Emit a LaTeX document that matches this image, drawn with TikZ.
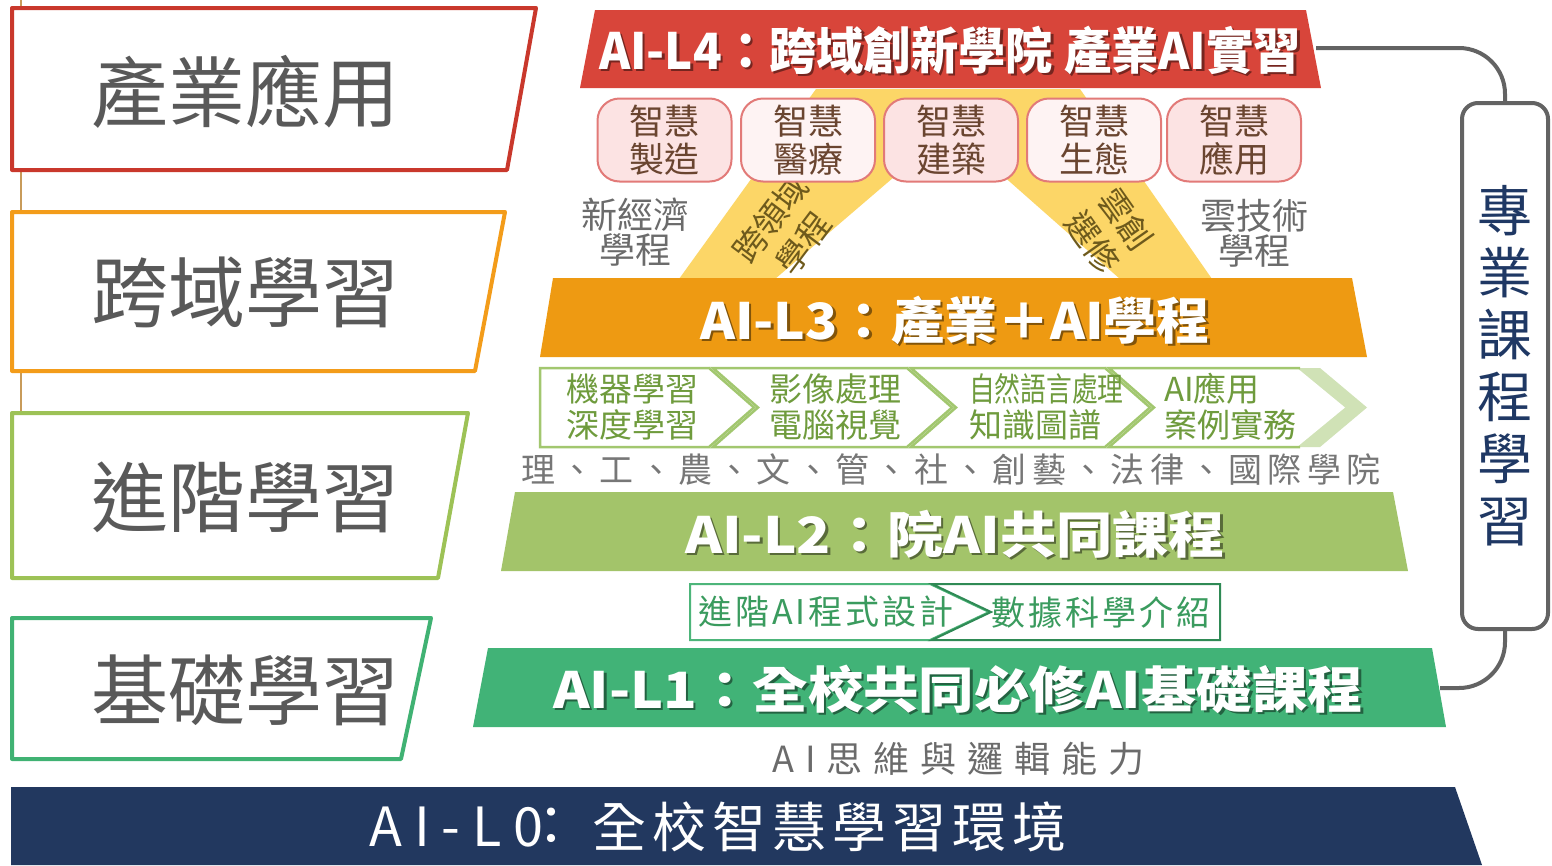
\documentclass[tikz,border=0pt]{standalone}
\usepackage{fontspec}
\usepackage{graphicx}
\setmainfont{Noto Sans CJK TC}
\newcommand\fs[2]{\fontsize{#1}{#2}\selectfont}
\makeatletter
\def\trk#1#2{\def\trk@k{\kern#1}\trk@first#2\trk@end}
\def\trk@first#1{#1\trk@a}
\def\trk@a#1{\ifx#1\trk@end\else\trk@k#1\expandafter\trk@a\fi}
\def\trk@end{\trk@end@x}
\makeatother
\definecolor{cLfour}{HTML}{D8453A}
\definecolor{cLthree}{HTML}{EE9A12}
\definecolor{cLtwo}{HTML}{A3C46A}
\definecolor{cLone}{HTML}{41B377}
\definecolor{cLzero}{HTML}{22385F}
\definecolor{bandc}{HTML}{FCD667}
\definecolor{bandtxt}{HTML}{6E5A1C}
\definecolor{lbl}{HTML}{595959}
\definecolor{bred}{HTML}{C9382C}
\definecolor{bora}{HTML}{F39C1A}
\definecolor{blgr}{HTML}{9DC256}
\definecolor{bgrn}{HTML}{40B273}
\definecolor{tanc}{HTML}{C89B5A}
\definecolor{pinkA}{HTML}{FCE3E3}
\definecolor{pinkB}{HTML}{FEF3F3}
\definecolor{pinkline}{HTML}{E27A78}
\definecolor{brownish}{HTML}{6A4530}
\definecolor{chevline}{HTML}{A2C76F}
\definecolor{chevtxt}{HTML}{6F9B3D}
\definecolor{chevfill}{HTML}{D0E2B6}
\definecolor{grtxt}{HTML}{3A9B5E}
\definecolor{grlineA}{HTML}{4DB57A}
\definecolor{grlineB}{HTML}{2F8A55}
\definecolor{navyc}{HTML}{1F3864}
\definecolor{brk}{HTML}{636363}
\definecolor{gtxt}{HTML}{6B6B6B}
\definecolor{gtxtb}{HTML}{777777}
\newcommand\ttl[5]{%
  \node[ttlshadow] (#1s) at (#2+2.5,#3+2.5) {\resizebox{#4pt}{\height}{#5}};
  \node[ttltext] (#1) at (#2,#3) {\resizebox{#4pt}{\height}{#5}};}
\begin{document}
\begin{tikzpicture}[x=1pt,y=-1pt,
  lblbox/.style={line width=4pt, fill=white, line join=round},
  lbltxt/.style={anchor=west, inner sep=0pt, text=lbl, font=\fs{77}{80}},
  ttltext/.style={inner sep=0pt, text=white, font=\bfseries\fs{50}{54}},
  ttlshadow/.style={inner sep=0pt, text=black, opacity=0.45, font=\bfseries\fs{50}{54}},
  smart/.style={rounded corners=22pt, draw=pinkline, line width=2pt, minimum width=134pt, minimum height=83pt, inner sep=0pt, text=brownish, font=\fs{35}{38}, align=center},
  side/.style={inner sep=0pt, text=gtxt, font=\fs{36}{35}, align=center},
  chev/.style={draw=chevline, line width=2.5pt, fill=white, line join=miter},
  chevtext/.style={anchor=west, inner sep=0pt, text=chevtxt, font=\fs{33}{36}, align=left},
  bandtext/.style={inner sep=0pt, text=bandtxt, font=\fs{33}{41}, align=center},
  brkline/.style={draw=brk, line width=4pt},
  plain/.style={anchor=west, inner sep=0pt}
]
\fill[white] (0,0) rectangle (1552,865);
\useasboundingbox (0,0) rectangle (1552,865);

% tan vertical line
\draw[tanc, line width=2.5pt] (21,0) -- (21,411);

% left label boxes
\draw[lblbox, draw=bred] (12,8) -- (536,8) -- (507,170) -- (12,170) -- cycle;
\node[lbltxt] (lab1) at (91,92) {產業應用};
\draw[lblbox, draw=bora] (12,212) -- (505,212) -- (475,371) -- (12,371) -- cycle;
\node[lbltxt] (lab2) at (91,292) {跨域學習};
\draw[lblbox, draw=blgr] (12,413) -- (468,413) -- (438,578) -- (12,578) -- cycle;
\node[lbltxt] (lab3) at (91,497) {進階學習};
\draw[lblbox, draw=bgrn] (12,618) -- (431,618) -- (401,759) -- (12,759) -- cycle;
\node[lbltxt] (lab4) at (91,690) {基礎學習};

% L0
\fill[cLzero] (11,787) -- (1455,787) -- (1482,865) -- (11,865) -- cycle;
\node[plain, text=white, font=\fs{54}{58}] (l0a) at (369,827) {\trk{12pt}{AI-L0}};
\node[inner sep=0pt, text=white, font=\fs{54}{58}] (l0b) at (551,827) {：};
\node[plain, text=white, font=\fs{54}{58}] (l0c) at (592,827) {\trk{6pt}{全校智慧學習環境}};

% yellow band
\fill[bandc, even odd rule] (679,279) -- (816,89) -- (1080,89) -- (1212,279) -- cycle
  (775,279) -- (950,129) -- (1120,279) -- cycle;
\node[bandtext, rotate=53] (bt1) at (787,231) {跨領域\\學程};
\node[bandtext, rotate=-55] (bt2) at (1109,231) {雲創\\選修};

% L4
\fill[cLfour] (595,10) -- (1306,10) -- (1321,88) -- (580,88) -- cycle;
\ttl{l4}{950}{50}{702}{AI-L4：跨域創新學院 產業AI實習}

% smart boxes
\node[smart, fill=pinkA] (s1) at (664.5,140) {智慧\\製造};
\node[smart, fill=pinkB] (s2) at (808,140) {智慧\\醫療};
\node[smart, fill=pinkA] (s3) at (951,140) {智慧\\建築};
\node[smart, fill=pinkB] (s4) at (1094,140) {智慧\\生態};
\node[smart, fill=pinkA] (s5) at (1234,140) {智慧\\應用};

% side texts
\node[side] (n1) at (635,232) {新經濟\\學程};
\node[side] (n2) at (1254,233) {雲技術\\學程};

% L3
\fill[cLthree] (553,278) -- (1352,278) -- (1367,357) -- (540,357) -- cycle;
\ttl{l3}{955}{320}{510}{AI-L3：產業＋AI學程}

% chevrons
\draw[chev] (540,368) -- (709,368) -- (754,407.5) -- (709,447) -- (540,447) -- cycle;
\draw[chev] (713,368) -- (907,368) -- (952,407.5) -- (907,447) -- (713,447) -- (758,407.5) -- cycle;
\draw[chev] (911,368) -- (1105,368) -- (1150,407.5) -- (1105,447) -- (911,447) -- (956,407.5) -- cycle;
\fill[chevfill] (1109,368) -- (1320,368) -- (1367,407.5) -- (1320,447) -- (1109,447) -- (1154,407.5) -- cycle;
\fill[white] (1109,368) -- (1297,368) -- (1345,407.5) -- (1297,447) -- (1109,447) -- (1154,407.5) -- cycle;
\draw[draw=chevline, line width=2.5pt] (1300,368) -- (1109,368) -- (1154,407.5) -- (1109,447) -- (1300,447);
\node[chevtext] (c1t) at (566,407) {機器學習\\深度學習};
\node[chevtext] (c2t) at (769,407) {影像處理\\電腦視覺};
\node[chevtext] (c3t) at (969,407) {\scalebox{0.78}[1]{自然語言處理}\\知識圖譜};
\node[chevtext] (c4t) at (1164,407) {AI應用\\案例實務};

% colleges
\node[plain, text=gtxtb, font=\fs{34}{36}] (col) at (521,470) {\trk{5.3pt}{理、工、農、文、管、社、創藝、法律、國際學院}};

% L2
\fill[cLtwo] (515,492) -- (1393,492) -- (1408,571) -- (501,571) -- cycle;
\ttl{l2}{955}{534}{540}{AI-L2：院AI共同課程}

% mini boxes
\draw[draw=grlineA, line width=2pt, fill=white] (690,584) -- (930,584) -- (989,612) -- (930,640) -- (690,640) -- cycle;
\draw[draw=grlineB, line width=2pt] (932,584) -- (1220,584) -- (1220,640) -- (932,640) -- (991,612) -- cycle;
\node[plain, text=grtxt, font=\fs{34}{36}] (m1) at (698,612) {\trk{3pt}{進階AI程式設計}};
\node[plain, text=grtxt, font=\fs{34}{36}] (m2) at (991,612) {\trk{3pt}{數據科學介紹}};

% L1
\fill[cLone] (488,648) -- (1432,648) -- (1446,727) -- (473,727) -- cycle;
\ttl{l1}{958}{689}{810}{AI-L1：全校共同必修AI基礎課程}

\node[plain, text=gtxt, font=\fs{36}{38}] (thk) at (772,759) {\trk{11pt}{AI思維與邏輯能力}};

% right box and bracket
\node[draw=brk, line width=4pt, rounded corners=16pt, fill=white, minimum width=86pt, minimum height=526pt, inner sep=0pt, text=navyc, font=\fs{55}{62}, align=center] (vbox) at (1505,366) {專\\業\\課\\程\\學\\習};
\coordinate (l4r) at (1316,48);
\coordinate (l1r) at (1440,688);
\draw[brkline, rounded corners=46pt] (l4r) -| (vbox.north);
\draw[brkline, rounded corners=46pt] (vbox.south) |- (l1r);
\end{tikzpicture}
\end{document}
